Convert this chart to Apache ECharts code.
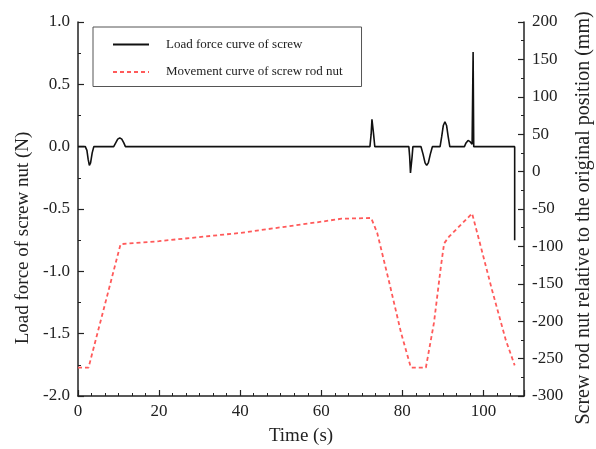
<!DOCTYPE html>
<html>
<head>
<meta charset="utf-8">
<script src="https://cdn.jsdelivr.net/npm/echarts@6/dist/echarts.min.js"></script>
<style>html,body{margin:0;padding:0;background:#fff}#c{width:596px;height:449px}</style>
</head>
<body>
<div id="c"></div>
<script>
// Load force curve of screw (left axis, N)
const forceTime = [0, 1.8, 2.2, 2.5, 2.8, 3.1, 3.5, 3.9,
  8.8, 9.3, 9.8, 10.3, 10.8, 11.3, 11.7,
  72.0, 72.3, 72.5, 72.7, 72.9, 73.2,
  81.6, 81.8, 82.0, 82.2, 82.4, 82.6,
  84.6, 85.1, 85.6, 86.0, 86.4, 86.9, 87.4,
  89.3, 89.7, 90.1, 90.5, 90.9, 91.3, 91.7,
  95.3, 95.7, 96.2, 96.7, 97.2, 97.45, 97.6,
  107.7, 107.7];
const forceValue = [0, 0, -0.03, -0.1, -0.15, -0.13, -0.05, 0,
  0, 0.03, 0.06, 0.07, 0.06, 0.03, 0,
  0, 0.1, 0.22, 0.22, 0.1, 0,
  0, -0.08, -0.21, -0.21, -0.08, 0,
  0, -0.06, -0.13, -0.15, -0.13, -0.06, 0,
  0, 0.08, 0.17, 0.2, 0.17, 0.08, 0,
  0, 0.03, 0.05, 0.04, 0.02, 0.76, 0,
  0, -0.75];
// Movement curve of screw rod nut (right axis, mm)
const moveTime = [0, 2.6, 10.5, 20, 40, 60, 65, 72.3, 73.8, 76.8, 79.7, 82.1, 85.8, 87.8, 89.5, 90.3, 91.5, 97.2, 98.9, 102.1, 105.5, 107.7];
const moveValue = [-262, -262, -97, -93, -82, -67, -63, -62, -82, -149, -216, -262, -262, -202, -127, -96, -87, -56, -91, -158, -225, -259];
const xTicks = [0, 20, 40, 60, 80, 100];
const leftTicks = [1.0, 0.5, 0.0, -0.5, -1.0, -1.5, -2.0];
const rightTicks = [200, 150, 100, 50, 0, -50, -100, -150, -200, -250, -300];

const font = '"Liberation Serif", "Times New Roman", serif';
const forceData = forceTime.map((t, i) => [t, forceValue[i]]);
const moveData = moveTime.map((t, i) => [t, moveValue[i]]);

const chart = echarts.init(document.getElementById('c'), null, {renderer: 'canvas'});
const axisCommon = {
  axisLine: {show: true, onZero: false, lineStyle: {color: '#222', width: 1.5}},
  axisTick: {show: true, inside: true, length: 6, lineStyle: {color: '#222', width: 1.2}},
  splitLine: {show: false},
  nameTextStyle: {fontFamily: font, fontSize: 19, color: '#222'},
  axisLabel: {fontFamily: font, fontSize: 17, color: '#222'}
};
chart.setOption({
  animation: false,
  backgroundColor: '#fff',
  grid: {left: 78, right: 72, top: 22, bottom: 53, containLabel: false, outerBoundsMode: 'none'},
  legend: {
    orient: 'vertical', left: 93, top: 27,
    padding: [11, 19, 8, 19],
    itemWidth: 36, itemHeight: 14, itemGap: 14.5,
    borderColor: '#555', borderWidth: 1,
    itemStyle: {opacity: 0},
    textStyle: {fontFamily: font, fontSize: 13, color: '#222', padding: [0, 0, 0, 12]},
    data: [
      {name: 'Load force curve of screw'},
      {name: 'Movement curve of screw rod nut'}
    ]
  },
  xAxis: Object.assign({}, axisCommon, {
    type: 'value', min: 0, max: 110, interval: 20,
    minorTick: {show: true, splitNumber: 6, length: 3, lineStyle: {color: '#222', width: 1}},
    name: 'Time (s)', nameLocation: 'middle', nameGap: 31,
    axisLabel: Object.assign({}, axisCommon.axisLabel, {
      margin: 7,
      formatter: v => xTicks.includes(v) ? String(v) : ''
    })
  }),
  yAxis: [
    Object.assign({}, axisCommon, {
      type: 'value', min: -2, max: 1, interval: 0.5, position: 'left',
      minorTick: {show: true, splitNumber: 2, length: 3, lineStyle: {color: '#222', width: 1}},
      name: 'Load force of screw nut (N)', nameLocation: 'middle', nameGap: 39, nameRotate: 90,
      nameTextStyle: Object.assign({}, axisCommon.nameTextStyle, {padding: [0, 58, 0, 0]}),
      axisLabel: Object.assign({}, axisCommon.axisLabel, {
        margin: 8,
        formatter: v => leftTicks.includes(v) ? v.toFixed(1) : ''
      })
    }),
    Object.assign({}, axisCommon, {
      type: 'value', min: -300, max: 200, interval: 50, position: 'right',
      minorTick: {show: true, splitNumber: 2, length: 3, lineStyle: {color: '#222', width: 1}},
      name: 'Screw rod nut relative to the original position (mm)', nameLocation: 'middle', nameGap: 49, nameRotate: 90,
      nameTextStyle: Object.assign({}, axisCommon.nameTextStyle, {fontSize: 20, padding: [0, 18, 0, 0]}),
      axisLabel: Object.assign({}, axisCommon.axisLabel, {
        margin: 8,
        formatter: v => rightTicks.includes(v) ? String(v) : ''
      })
    })
  ],
  series: [
    {
      name: 'Load force curve of screw', type: 'line', yAxisIndex: 0,
      data: forceData, symbol: 'none',
      lineStyle: {color: '#111', width: 1.6}, itemStyle: {color: '#111'}
    },
    {
      name: 'Movement curve of screw rod nut', type: 'line', yAxisIndex: 1,
      data: moveData, symbol: 'none',
      lineStyle: {color: '#ff5a5a', width: 1.8, type: [4, 3]}, itemStyle: {color: '#ff5a5a'}
    }
  ]
});
</script>
</body>
</html>
